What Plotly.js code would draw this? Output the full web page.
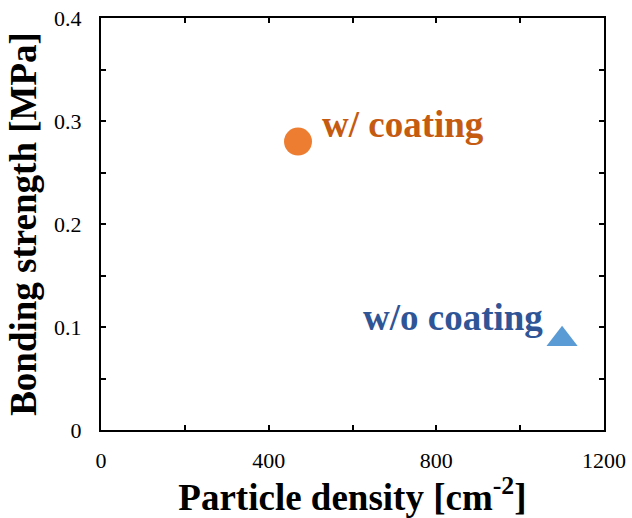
<!DOCTYPE html>
<html>
<head>
<meta charset="utf-8">
<script src="https://cdn.plot.ly/plotly-3.0.1.min.js"></script>
<style>html,body{margin:0;padding:0;background:#fff;}#chart{width:632px;height:518px;}</style>
</head>
<body>
<div id="chart"></div>
<script>
// Data
const seriesNames = ["w/ coating", "w/o coating"];
const coatedDensity = [470];
const coatedStrength = [0.28];
const uncoatedDensity = [1100];
const uncoatedStrength = [0.088];

const xTickVals = [0, 200, 400, 600, 800, 1000, 1200];
const xTickText = ["0", "", "400", "", "800", "", "1200"];
const yTickVals = [0, 0.05, 0.1, 0.15, 0.2, 0.25, 0.3, 0.35, 0.4];
const yTickText = ["0", "", "0.1", "", "0.2", "", "0.3", "", "0.4"];

const serif = "Liberation Serif, Times New Roman, serif";

const traces = [
  {
    x: coatedDensity, y: coatedStrength, name: seriesNames[0],
    type: "scatter", mode: "markers",
    marker: {symbol: "circle", size: 28, color: "#ED7D31"}
  },
  {
    x: uncoatedDensity, y: uncoatedStrength, name: seriesNames[1],
    type: "scatter", mode: "markers",
    marker: {symbol: "triangle-up", size: 27, color: "#5B9BD5"}
  }
];

const axisCommon = {
  showline: true, linecolor: "#000", linewidth: 2, mirror: "ticks",
  ticks: "inside", ticklen: 5, tickwidth: 2, tickcolor: "#000",
  showgrid: false, zeroline: false, fixedrange: true,
  tickfont: {family: serif, size: 22, color: "#000"}
};

const layout = {
  width: 632, height: 518,
  margin: {l: 101, r: 28, t: 18, b: 88},
  paper_bgcolor: "#fff", plot_bgcolor: "#fff",
  showlegend: false,
  xaxis: Object.assign({}, axisCommon, {
    range: [0, 1200], tickmode: "array", tickvals: xTickVals, ticktext: xTickText,
    ticklabelstandoff: 10,
    title: {text: "<b>Particle density [cm<sup>-2</sup>]</b>", font: {family: serif, size: 37, color: "#000"}, standoff: 2}
  }),
  yaxis: Object.assign({}, axisCommon, {
    range: [0, 0.4], tickmode: "array", tickvals: yTickVals, ticktext: yTickText,
    ticklabelstandoff: 13,
    title: {text: "<b>Bonding strength [MPa]</b>", font: {family: serif, size: 37, color: "#000"}, standoff: 6}
  }),
  annotations: [
    {
      x: coatedDensity[0], y: coatedStrength[0], xref: "x", yref: "y",
      text: "<b>" + seriesNames[0] + "</b>", showarrow: false,
      xanchor: "left", yanchor: "middle", xshift: 22, yshift: 17,
      font: {family: serif, size: 37, color: "#C55A11"}
    },
    {
      x: uncoatedDensity[0], y: uncoatedStrength[0], xref: "x", yref: "y",
      text: "<b>" + seriesNames[1] + "</b>", showarrow: false,
      xanchor: "right", yanchor: "middle", xshift: -17, yshift: 22,
      font: {family: serif, size: 37, color: "#2F5597"}
    }
  ]
};

Plotly.newPlot("chart", traces, layout, {displayModeBar: false, staticPlot: true});
</script>
</body>
</html>
